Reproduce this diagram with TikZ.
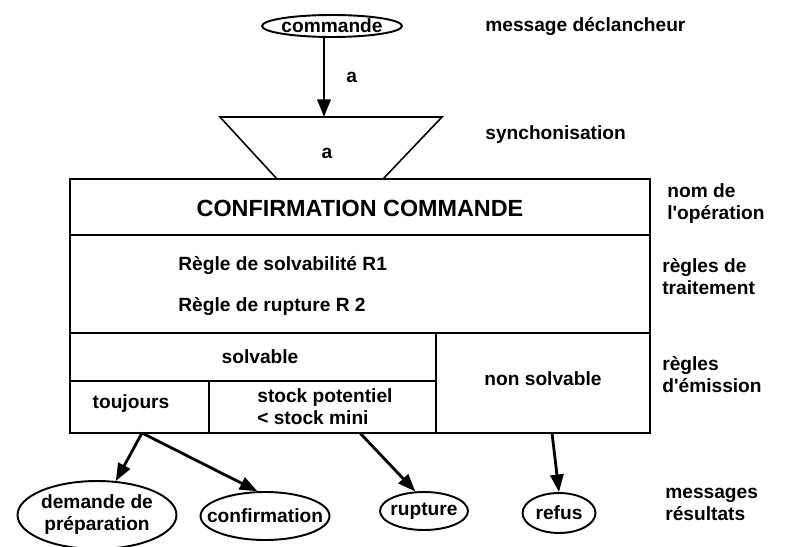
\documentclass[tikz,border=0pt]{standalone}
\usepackage{fontspec}
\setmainfont{Liberation Sans}
\usetikzlibrary{shapes.geometric,arrows.meta}

\tikzset{
  txt/.style={font=\bfseries\fontsize{10.9}{12.5}\selectfont, align=left, inner sep=0pt},
  msg/.style={draw, ellipse, line width=1.1pt, inner sep=0pt},
  flow/.style={-{Triangle[length=10pt,width=7.5pt]}, line width=1.6pt},
  cadre/.style={line width=1.2pt},
}

\begin{document}
\begin{tikzpicture}[x=0.02cm,y=-0.02cm]
\useasboundingbox (0,0) rectangle (787,547);

% message declencheur
\node[msg, minimum width=2.8cm, minimum height=0.44cm, label={[txt]center:commande}] (cmd) at (332,26) {};
\node[txt, anchor=west] (decl) at (485,27) {message déclancheur};

% synchronisation
\draw[line width=0.9pt] (220,117) -- (442,117) -- (383,179) -- (277,179) -- cycle;
\coordinate (syncTop) at (324,117);
\node[txt] (syncA) at (327,153) {a};
\node[txt, anchor=west] (sync) at (485,135) {synchonisation};
\draw[flow] (cmd.south -| syncTop) -- (syncTop) node[txt, midway, right=12pt] {a};

% operation
\draw[cadre] (70,179) rectangle (650,433);
\draw[cadre] (70,235) -- (650,235);
\draw[cadre] (70,333) -- (650,333);
\draw[cadre] (70,381) -- (436,381);
\draw[cadre] (436,333) -- (436,433);
\draw[cadre] (209,381) -- (209,433);

\node[font=\bfseries\fontsize{13.3}{15}\selectfont, inner sep=0pt] (titre) at (360,208) {CONFIRMATION COMMANDE};
\node[txt, anchor=west] (r1) at (178,266) {Règle de solvabilité R1};
\node[txt, anchor=west] (r2) at (178,307) {Règle de rupture R 2};
\node[txt] (solv) at (260,357) {solvable};
\node[txt] (nsolv) at (543,379) {non solvable};
\node[txt] (tjrs) at (131,404) {toujours};
\node[txt, anchor=west] (stock) at (257,407) {stock potentiel\\< stock mini};

\node[txt, anchor=west] (nom) at (667,204) {nom de\\l\textquotesingle opération};
\node[txt, anchor=west] (trait) at (662,277) {règles de\\traitement};
\node[txt, anchor=west] (emis) at (662,375) {règles\\d\textquotesingle émission};

% messages resultats
\node[msg, minimum width=3.18cm, minimum height=1.36cm, label={[txt,align=center]center:demande de\\préparation}] (prep) at (97,515) {};
\node[msg, minimum width=2.58cm, minimum height=0.96cm, label={[txt]center:confirmation}] (conf) at (265,516) {};
\node[msg, minimum width=1.76cm, minimum height=0.76cm, label={[txt]center:rupture}] (rupt) at (424,511) {};
\node[msg, minimum width=1.46cm, minimum height=0.8cm, label={[txt]center:refus}] (refus) at (559,513) {};
\node[txt, anchor=west] (res) at (665,504) {messages\\résultats};

\coordinate (oTj) at (142,433);
\coordinate (oSt) at (360,433);
\coordinate (oNs) at (552,433);
\draw[flow] (oTj) -- (prep.61);
\draw[flow] (oTj) -- (conf.107);
\draw[flow] (oSt) -- (rupt.114);
\draw[flow] (oNs) -- (refus.north);
\end{tikzpicture}
\end{document}
